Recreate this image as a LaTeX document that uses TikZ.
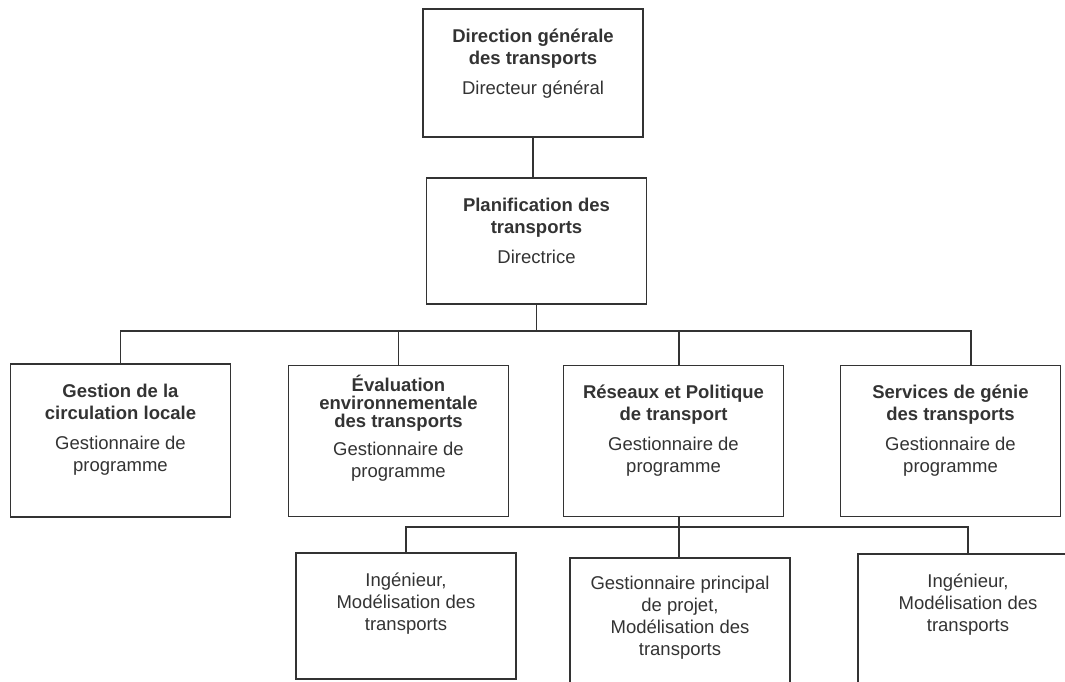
\documentclass[tikz,border=0pt]{standalone}
\usepackage{fontspec}
\setmainfont{Liberation Sans}
\usetikzlibrary{positioning}
\definecolor{boxline}{HTML}{333333}
\definecolor{textdark}{HTML}{333333}
\tikzset{
  unitbox/.style={draw=boxline,line width=1.1pt,minimum width=220pt,inner sep=0pt},
  unittext/.style={align=center,inner sep=0pt,anchor=north,text=textdark,
                   font=\fontsize{18.5}{22}\selectfont},
  link/.style={draw=boxline,line width=1.1pt}
}

\begin{document}
\begin{tikzpicture}[x=1pt,y=1pt]
  \useasboundingbox (0,0) rectangle (1065,-681);
  \clip (0,0) rectangle (1065,-681);
  % top of the chart
  \node[unitbox,minimum height=128pt] (dg) at (533,-73) {};
  \node[unittext,below=20pt of dg.north] (dgtxt)
    {\textbf{Direction générale}\\\textbf{des transports}\\[8pt]Directeur général};
  \node[unitbox,minimum height=126pt] (pt) at (536.5,-241) {};
  \node[unittext,below=20pt of pt.north] (pttxt)
    {\textbf{Planification des}\\\textbf{transports}\\[8pt]Directrice};
  % sections
  \node[unitbox,minimum height=153pt] (s1) at (120.5,-440.5) {};
  \node[unittext,below=20pt of s1.north] (s1txt)
    {\textbf{Gestion de la}\\\textbf{circulation locale}\\[8pt]Gestionnaire de\\programme};
  \node[unitbox,minimum height=151pt] (s2) at (398.5,-441) {};
  \node[unittext,below=10pt of s2.north] (s2txt)
    {\textbf{Évaluation}\\[-4pt]\textbf{environnementale}\\[-4pt]\textbf{des transports}\\[6pt]Gestionnaire de\\programme};
  \node[unitbox,minimum height=151pt] (s3) at (673.5,-441) {};
  \node[unittext,below=20pt of s3.north] (s3txt)
    {\textbf{Réseaux et Politique}\\\textbf{de transport}\\[8pt]Gestionnaire de\\programme};
  \node[unitbox,minimum height=151pt] (s4) at (950.5,-441) {};
  \node[unittext,below=20pt of s4.north] (s4txt)
    {\textbf{Services de génie}\\\textbf{des transports}\\[8pt]Gestionnaire de\\programme};
  % staff under Réseaux et Politique
  \node[unitbox,minimum height=126pt] (e1) at (406,-616) {};
  \node[unittext,below=20pt of e1.north] (e1txt)
    {Ingénieur,\\Modélisation des\\transports};
  \node[unitbox,minimum height=160pt] (e2) at (680,-638) {};
  \node[unittext,below=18pt of e2.north] (e2txt)
    {Gestionnaire principal\\de projet,\\Modélisation des\\transports};
  \node[unitbox,minimum height=160pt] (e3) at (968,-634) {};
  \node[unittext,below=20pt of e3.north] (e3txt)
    {Ingénieur,\\Modélisation des\\transports};
  % connectors
  \coordinate (bus1) at (0,-331);
  \coordinate (bus2) at (0,-527);
  \coordinate (s3drop) at ([xshift=5.5pt]s3.north);
  \coordinate (s4drop) at ([xshift=20.5pt]s4.north);
  \draw[link] (dg.south) -- (dg.south |- pt.north);
  \draw[link] (pt.south) -- (pt.south |- bus1);
  \draw[link] (s1.north) -- (s1.north |- bus1) -- (s4drop |- bus1) -- (s4drop);
  \draw[link] (s2.north) -- (s2.north |- bus1);
  \draw[link] (s3drop) -- (s3drop |- bus1);
  \draw[link] (s3drop |- s3.south) -- (s3drop |- e2.north);
  \draw[link] (e1.north) -- (e1.north |- bus2) -- (e3.north |- bus2) -- (e3.north);
\end{tikzpicture}
\end{document}
